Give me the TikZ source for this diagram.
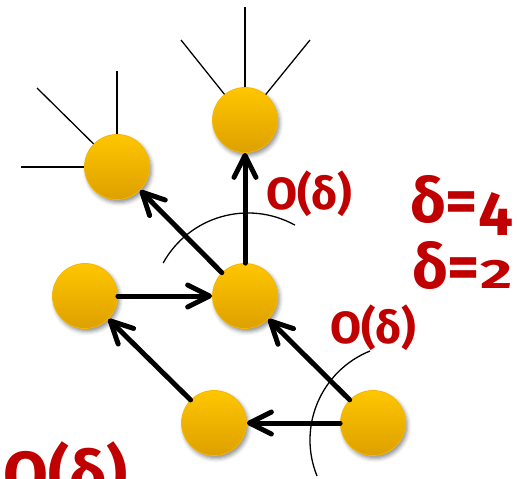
\documentclass[tikz,border=0pt]{standalone}
\usepackage{fontspec}
\newfontfamily\fira{Fira Sans}
\usetikzlibrary{arrows.meta,shadows.blur}
\definecolor{dred}{HTML}{C00000}
\definecolor{ntop}{HTML}{FFC600}
\definecolor{nbot}{HTML}{DDA000}
\definecolor{nrim}{HTML}{F4B800}
\begin{document}
\begin{tikzpicture}[x=1pt,y=-1pt,
  vert/.style={circle, minimum size=65pt, inner sep=0pt, top color=ntop, bottom color=nbot,
    draw=nrim, line width=0.8pt,
    blur shadow={shadow xshift=2pt, shadow yshift=-3pt, shadow blur radius=4pt, shadow opacity=45}},
  arr/.style={line width=5pt, line cap=round,
    -{Straight Barb[length=22pt,width=22pt,line cap=round,line join=round]}},
  thinline/.style={line width=1.3pt},
  lbl/.style={text=dred, font=\fira\bfseries\fontsize{45}{45}\selectfont, inner sep=0pt},
  biglbl/.style={text=dred, font=\fira\bfseries\fontsize{62}{62}\selectfont, inner sep=0pt},
  hugelbl/.style={text=dred, font=\fira\bfseries\fontsize{65}{65}\selectfont, inner sep=0pt}]
\useasboundingbox (0,0) rectangle (517,479);
\clip (0,0) rectangle (517,479);

% free ends of the thin edges
\coordinate (t1) at (245,7);
\coordinate (t2) at (181,40);
\coordinate (t3) at (310,40);
\coordinate (u1) at (117,71);
\coordinate (u2) at (37,88);
\coordinate (u3) at (21,167);

% nodes
\node[vert] (T)  at (245,120) {};
\node[vert] (UL) at (117,167) {};
\node[vert] (L)  at (85,296) {};
\node[vert] (C)  at (245,296) {};
\node[vert] (B)  at (214,423) {};
\node[vert] (BR) at (373,423) {};

% thin edges
\draw[thinline] (T) -- (t1);
\draw[thinline] (T) -- (t2);
\draw[thinline] (T) -- (t3);
\draw[thinline] (UL) -- (u1);
\draw[thinline] (UL) -- (u2);
\draw[thinline] (UL) -- (u3);

% arcs
\draw[thinline] (248,310) ++(-151:97) arc[start angle=-151, end angle=-61, radius=97];
\draw[thinline] (406,440) ++(-112:96) arc[start angle=-112, end angle=-202, radius=96];

% arrows
\draw[arr] (C) -- (T);
\draw[arr] (C) -- (UL);
\draw[arr] (L) -- (C);
\draw[arr] (B) -- (L);
\draw[arr] (BR) -- (C);
\draw[arr] (BR) -- (B);

% labels
\node[lbl, anchor=base west] (o1) at (266,209) {O(δ)};
\node[lbl, anchor=base west] (o2) at (330,343) {O(δ)};
\node[biglbl, anchor=base west] (d4) at (410,222) {δ=\raisebox{-13pt}{4}};
\node[biglbl, anchor=base west] (d2) at (412,288) {δ=\scalebox{1}[0.66]{2}};
\node[hugelbl, anchor=base east] (o3) at (128,497) {O(δ)};
\end{tikzpicture}
\end{document}
